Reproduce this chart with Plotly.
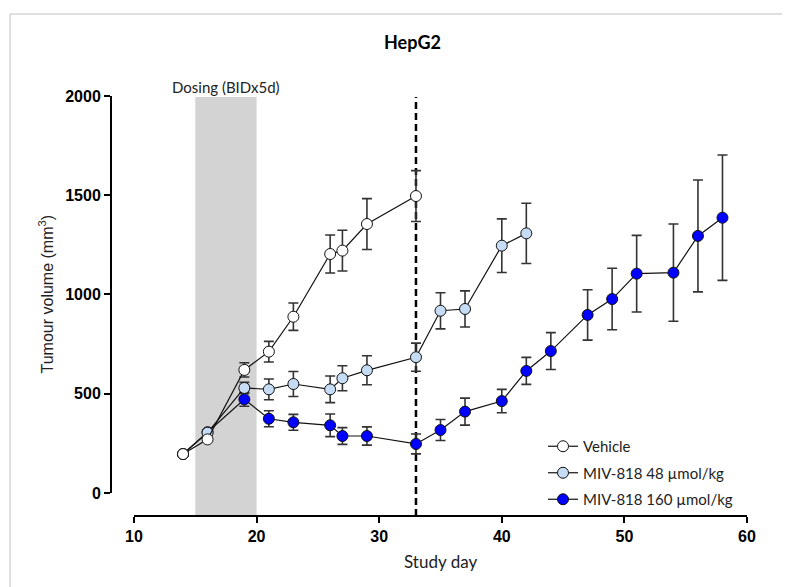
import plotly.graph_objects as go

# ---- data ----
veh_days = [14, 16, 19, 21, 23, 26, 27, 29, 33]
veh_vals = [196, 270, 620, 712, 888, 1204, 1221, 1355, 1496]
veh_err = [8, 10, 36, 52, 69, 96, 103, 128, 128]

low_days = [14, 16, 19, 21, 23, 26, 27, 29, 33, 35, 37, 40, 42]
low_vals = [196, 304, 529, 522, 549, 522, 578, 618, 684, 918, 927, 1246, 1308]
low_err = [5, 10, 28, 52, 63, 67, 63, 73, 71, 91, 91, 135, 152]

high_days = [14, 16, 19, 21, 23, 26, 27, 29, 33, 35, 37, 40, 42, 44, 47, 49, 51, 54, 56, 58]
high_vals = [196, 306, 472, 374, 356, 341, 287, 287, 247, 317, 410, 463, 615, 715, 897, 977,
             1105, 1110, 1295, 1387]
high_err = [5, 10, 35, 40, 40, 57, 42, 46, 50, 53, 68, 59, 68, 93, 127, 155, 193, 245, 282, 316]

x_ticks = [10, 20, 30, 40, 50, 60]
y_ticks = [0, 500, 1000, 1500, 2000]
dosing_start, dosing_end = 15, 20
stop_day = 33

series_names = ["Vehicle", "MIV-818 48 \u00b5mol/kg", "MIV-818 160 \u00b5mol/kg"]

# ---- figure geometry (page has an 8px body margin) ----
OFF = 8
W, H = 782, 579
plot_left, plot_right, plot_top, plot_bottom = 111, 747, 96, 516  # screen pixels
L = plot_left - OFF
R = W - (plot_right - OFF)
T = plot_top - OFF
B = H - (plot_bottom - OFF)
pw, ph = W - L - R, H - T - B


def px_x(p):
    return (p - OFF - L) / pw


def px_y(p):
    return (H - B - (p - OFF)) / ph


TEXT_FONT = "Lato"
fig = go.Figure()

traces = [
    (high_days, high_vals, high_err, "#0000ff", series_names[2], 3),
    (low_days, low_vals, low_err, "#c5dcf4", series_names[1], 2),
    (veh_days, veh_vals, veh_err, "#ffffff", series_names[0], 1),
]
for d, v, e, col, name, rank in traces:
    fig.add_trace(go.Scatter(
        x=d, y=v, name=name, mode="lines+markers", legendgroup=name, legendrank=rank,
        line=dict(color="#111111", width=1.2),
        marker=dict(size=11, color=col, line=dict(color="#111111", width=1)),
        error_y=dict(type="data", array=e, visible=True, color="#333333", thickness=1.6, width=5),
        cliponaxis=False,
    ))

shapes = [
    dict(type="rect", xref="x", yref="paper", x0=dosing_start, x1=dosing_end, y0=0, y1=px_y(97),
         fillcolor="#d3d3d3", line=dict(width=0), layer="below"),
    dict(type="line", xref="x", yref="paper", x0=stop_day, x1=stop_day, y0=0, y1=px_y(97),
         line=dict(color="black", width=2.5, dash="7px,4px"), layer="below"),
    dict(type="line", xref="paper", yref="y", x0=0, x1=0, y0=0, y1=2000,
         line=dict(color="black", width=2)),
    dict(type="line", xref="x", yref="paper", x0=10, x1=60, y0=0, y1=0,
         line=dict(color="black", width=2)),
    dict(type="line", xref="paper", yref="paper", x0=px_x(10), x1=px_x(790), y0=px_y(14), y1=px_y(14),
         line=dict(color="#c0c0c0", width=1)),
    dict(type="line", xref="paper", yref="paper", x0=px_x(10), x1=px_x(10), y0=px_y(14), y1=px_y(587),
         line=dict(color="#c0c0c0", width=1)),
]

annotations = [
    dict(text="<b>HepG2</b>", xref="paper", yref="paper", x=px_x(412), y=px_y(42),
         xanchor="center", yanchor="middle",
         showarrow=False, font=dict(family=TEXT_FONT, size=18, color="black")),
    dict(text="Dosing (BIDx5d)", xref="x", yref="paper", x=(dosing_start + dosing_end) / 2, y=px_y(87),
         xanchor="center", yanchor="middle",
         showarrow=False, font=dict(family=TEXT_FONT, size=15, color="#222222")),
    dict(text="Tumour volume (mm<sup>3</sup>)", xref="paper", yref="y", x=px_x(47), y=1000,
         xanchor="center", yanchor="middle",
         textangle=-90, showarrow=False, font=dict(family="Liberation Sans", size=16, color="#222222")),
    dict(text="Study day", xref="x", yref="paper", x=35, y=px_y(561),
         xanchor="center", yanchor="middle",
         showarrow=False, font=dict(family=TEXT_FONT, size=17, color="#222222")),
]

fig.update_layout(
    width=W, height=H, margin=dict(l=L, r=R, t=T, b=B, pad=0),
    plot_bgcolor="white", paper_bgcolor="white",
    showlegend=True,
    legend=dict(x=px_x(543), y=px_y(430), xanchor="left", yanchor="top",
                traceorder="grouped", tracegroupgap=4, bgcolor="rgba(0,0,0,0)",
                font=dict(family=TEXT_FONT, size=15, color="#222222")),
    shapes=shapes, annotations=annotations,
)
fig.update_xaxes(range=[10 - 23 / 12.26, 60], tickvals=x_ticks, ticks="outside", ticklen=6,
                 tickwidth=2, tickcolor="black", showgrid=False, zeroline=False, showline=False,
                 tickfont=dict(family="Liberation Sans", size=16, color="black", weight="bold"))
fig.update_yaxes(range=[-116, 2000], tickvals=y_ticks, ticks="outside", ticklen=6,
                 tickwidth=2, tickcolor="black", showgrid=False, zeroline=False, showline=False,
                 tickfont=dict(family="Liberation Sans", size=16, color="black", weight="bold"))

fig.write_html("out.html")
